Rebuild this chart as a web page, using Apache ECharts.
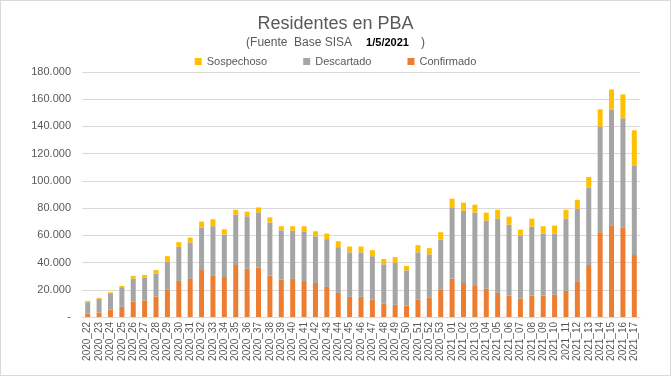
<!DOCTYPE html>
<html>
<head>
<meta charset="utf-8">
<script src="https://cdn.jsdelivr.net/npm/echarts@6/dist/echarts.min.js"></script>
<style>
  html, body { margin: 0; padding: 0; background: #fff; }
  #chart {
    width: 671px;
    height: 376px;
    box-sizing: border-box;
    border: 1px solid #d9d9d9;
  }
</style>
</head>
<body>
<div id="chart"></div>
<script>
// semanas epidemiologicas
var semanas = [
  '2020_22', '2020_23', '2020_24', '2020_25', '2020_26', '2020_27', '2020_28', '2020_29',
  '2020_30', '2020_31', '2020_32', '2020_33', '2020_34', '2020_35', '2020_36', '2020_37',
  '2020_38', '2020_39', '2020_40', '2020_41', '2020_42', '2020_43', '2020_44', '2020_45',
  '2020_46', '2020_47', '2020_48', '2020_49', '2020_50', '2020_51', '2020_52', '2020_53',
  '2021_01', '2021_02', '2021_03', '2021_04', '2021_05', '2021_06', '2021_07', '2021_08',
  '2021_09', '2021_10', '2021_11', '2021_12', '2021_13', '2021_14', '2021_15', '2021_16',
  '2021_17'
]

var confirmado = [
  2500, 3400, 5400, 7500, 11200, 12200, 15100, 19900, 26500, 28000, 34500, 30200,
  29400, 38200, 35500, 36300, 30400, 27500, 28000, 26500, 25000, 22100, 17700, 14800,
  14800, 12700, 10000, 9000, 8300, 12700, 14100, 20400, 28200, 25000, 22800, 20700,
  17700, 15600, 13400, 15600, 15800, 16300, 19200, 25800, 38200, 62300, 67400, 65500,
  45500
]

var descartado = [
  8300, 10000, 12100, 14400, 17000, 16800, 16800, 21000, 25100, 26800, 31000, 36500,
  31200, 37000, 38500, 40600, 39000, 36200, 35500, 36500, 34300, 35100, 33600, 32700,
  32700, 32000, 28700, 30900, 26000, 34800, 31900, 36500, 51900, 53100, 53900, 50100,
  54600, 52300, 46500, 50800, 45500, 45000, 53100, 53800, 56700, 77600, 85200, 80500,
  65500
]

var sospechoso = [
  1000, 700, 700, 900, 2000, 1900, 2600, 3800, 3400, 3600, 4600, 5100,
  3900, 3600, 3400, 3600, 3800, 3000, 3200, 3700, 3700, 4100, 4400, 4300,
  4300, 4400, 3900, 4100, 3200, 5300, 4600, 5400, 6800, 5900, 5800, 5900,
  6500, 5800, 4300, 5900, 5400, 5900, 6500, 6500, 8000, 12700, 14600, 17500,
  26200
]

var textoGris = '#595959'
var fuente = "'Liberation Sans', Arial, sans-serif"

var myChart = echarts.init(document.getElementById('chart'))
myChart.setOption({
  animation: false,
  color: ['#ED7D31', '#A5A5A5', '#FFC000'],
  textStyle: { fontFamily: fuente },
  title: [
    {
      text: 'Residentes en PBA',
      left: 'center',
      top: 9,
      textStyle: {
        color: textoGris,
        fontSize: 18,
        fontWeight: 'normal',
        fontFamily: fuente,
      },
    },
    {
      text: '{a|(Fuente  Base SISA}{b|1/5/2021}{a|)}',
      left: 'center',
      top: 31,
      textStyle: {
        fontWeight: 'normal',
        rich: {
          a: { color: textoGris, fontSize: 12, fontWeight: 'normal', fontFamily: fuente },
          b: {
            color: '#000',
            fontSize: 11,
            fontWeight: 'bold',
            fontFamily: fuente,
            padding: [0, 12, 0, 14],
          },
        },
      },
    },
  ],
  legend: {
    data: ['Sospechoso', 'Descartado', 'Confirmado'],
    top: 50,
    left: 'center',
    icon: 'rect',
    itemWidth: 7,
    itemHeight: 7,
    itemGap: 36,
    textStyle: { color: textoGris, fontSize: 11, fontFamily: fuente },
  },
  grid: {
    top: 71,
    bottom: 58,
    left: 81,
    right: 30,
  },
  xAxis: {
    type: 'category',
    data: semanas,
    axisLine: { lineStyle: { color: '#d9d9d9' } },
    axisTick: { show: false },
    axisLabel: {
      rotate: 90,
      interval: 0,
      margin: 5,
      color: textoGris,
      fontSize: 10,
      fontFamily: fuente,
    },
  },
  yAxis: {
    type: 'value',
    min: 0,
    max: 180000,
    interval: 20000,
    axisLine: { show: false },
    axisTick: { show: false },
    splitLine: { lineStyle: { color: '#d9d9d9' } },
    axisLabel: {
      margin: 11,
      color: textoGris,
      fontSize: 11,
      fontFamily: fuente,
      formatter: function (v) {
        if (v === 0) return '-'
        return v.toString().replace(/\B(?=(\d{3})+(?!\d))/g, '.')
      },
    },
  },
  series: [
    {
      name: 'Confirmado',
      type: 'bar',
      stack: 'total',
      barWidth: 5,
      data: confirmado,
    },
    {
      name: 'Descartado',
      type: 'bar',
      stack: 'total',
      barWidth: 5,
      data: descartado,
    },
    {
      name: 'Sospechoso',
      type: 'bar',
      stack: 'total',
      barWidth: 5,
      data: sospechoso,
    },
  ],
})
</script>
</body>
</html>
